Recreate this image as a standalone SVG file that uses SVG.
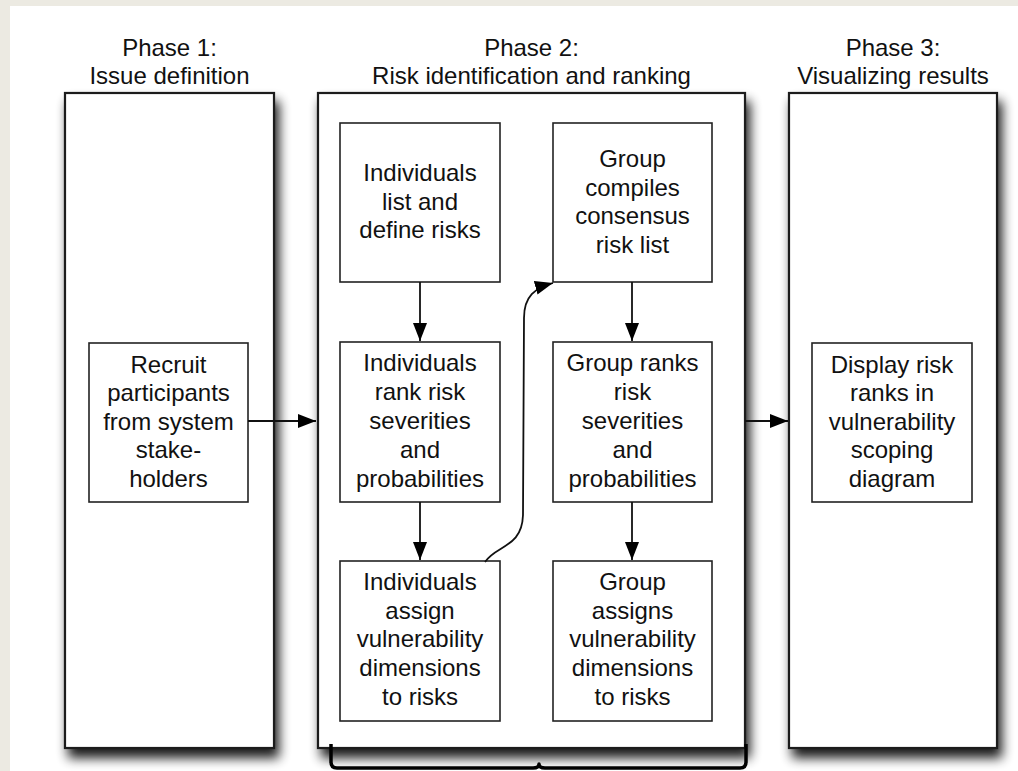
<svg xmlns="http://www.w3.org/2000/svg" width="1018" height="771" viewBox="0 0 1018 771">
  <defs>
    <style>
      text { font-family: "Liberation Sans", Arial, sans-serif; font-size: 24px; fill: #111; text-anchor: middle; }
      .phase { fill: #fff; stroke: #1a1a1a; stroke-width: 2.2; }
      .step { fill: #fff; stroke: #222; stroke-width: 1.6; }
      .link { fill: none; stroke: #111; stroke-width: 1.8; }
      .brace { fill: none; stroke: #000; stroke-width: 3.5; stroke-linejoin: round; }
    </style>
    <filter id="drop" x="-20%" y="-10%" width="140%" height="120%">
      <feGaussianBlur in="SourceAlpha" stdDeviation="6"/>
      <feOffset dx="4" dy="9"/>
      <feComponentTransfer><feFuncA type="linear" slope="0.9"/></feComponentTransfer>
      <feMerge><feMergeNode/><feMergeNode in="SourceGraphic"/></feMerge>
    </filter>
    <marker id="head" viewBox="0 0 18 14" refX="18" refY="7" markerWidth="18" markerHeight="14" markerUnits="userSpaceOnUse" orient="auto">
      <path d="M0,0 L18,7 L0,14 Z" fill="#000"/>
    </marker>
  </defs>

  <!-- page surround -->
  <rect x="0" y="0" width="1018" height="771" fill="#ECEAE2"/>
  <rect x="10" y="6" width="1008" height="765" fill="#fff"/>

  <!-- phase columns -->
  <g id="phase1">
    <rect class="phase" x="65" y="93" width="209" height="655" filter="url(#drop)"/>
    <text x="169.5" y="56">Phase 1:</text>
    <text x="169.5" y="84">Issue definition</text>
  </g>
  <g id="phase2">
    <rect class="phase" x="318" y="93" width="427" height="655" filter="url(#drop)"/>
    <text x="531.5" y="56">Phase 2:</text>
    <text x="531.5" y="84">Risk identification and ranking</text>
  </g>
  <g id="phase3">
    <rect class="phase" x="789" y="93" width="208" height="655" filter="url(#drop)"/>
    <text x="893" y="56">Phase 3:</text>
    <text x="893" y="84">Visualizing results</text>
  </g>

  <!-- steps -->
  <g id="recruit">
    <rect class="step" x="89" y="343" width="159" height="159"/>
    <text x="168.5" y="373">Recruit</text>
    <text x="168.5" y="401">participants</text>
    <text x="168.5" y="429.5">from system</text>
    <text x="168.5" y="458">stake-</text>
    <text x="168.5" y="486.5">holders</text>
  </g>
  <g id="ind-list">
    <rect class="step" x="340" y="123" width="160" height="159"/>
    <text x="420" y="181">Individuals</text>
    <text x="420" y="209.5">list and</text>
    <text x="420" y="238">define risks</text>
  </g>
  <g id="grp-list">
    <rect class="step" x="553" y="123" width="159" height="159"/>
    <text x="632.5" y="167">Group</text>
    <text x="632.5" y="195.5">compiles</text>
    <text x="632.5" y="224">consensus</text>
    <text x="632.5" y="252.5">risk list</text>
  </g>
  <g id="ind-rank">
    <rect class="step" x="340" y="342" width="160" height="160"/>
    <text x="420" y="371">Individuals</text>
    <text x="420" y="400">rank risk</text>
    <text x="420" y="429">severities</text>
    <text x="420" y="458">and</text>
    <text x="420" y="486.5">probabilities</text>
  </g>
  <g id="grp-rank">
    <rect class="step" x="553" y="342" width="159" height="160"/>
    <text x="632.5" y="371">Group ranks</text>
    <text x="632.5" y="400">risk</text>
    <text x="632.5" y="429">severities</text>
    <text x="632.5" y="458">and</text>
    <text x="632.5" y="486.5">probabilities</text>
  </g>
  <g id="ind-assign">
    <rect class="step" x="340" y="561" width="160" height="160"/>
    <text x="420" y="590">Individuals</text>
    <text x="420" y="618.5">assign</text>
    <text x="420" y="647">vulnerability</text>
    <text x="420" y="676">dimensions</text>
    <text x="420" y="704.5">to risks</text>
  </g>
  <g id="grp-assign">
    <rect class="step" x="553" y="561" width="159" height="160"/>
    <text x="632.5" y="590">Group</text>
    <text x="632.5" y="618.5">assigns</text>
    <text x="632.5" y="647">vulnerability</text>
    <text x="632.5" y="676">dimensions</text>
    <text x="632.5" y="704.5">to risks</text>
  </g>
  <g id="display">
    <rect class="step" x="812" y="343" width="160" height="159"/>
    <text x="892" y="373">Display risk</text>
    <text x="892" y="401">ranks in</text>
    <text x="892" y="429.5">vulnerability</text>
    <text x="892" y="458">scoping</text>
    <text x="892" y="486.5">diagram</text>
  </g>

  <!-- connectors -->
  <g id="connectors">
    <path class="link" d="M248,421 L316,421" marker-end="url(#head)"/>
    <path class="link" d="M745,421 L788,421" marker-end="url(#head)"/>
    <path class="link" d="M420,282 L420,341" marker-end="url(#head)"/>
    <path class="link" d="M420,502 L420,560" marker-end="url(#head)"/>
    <path class="link" d="M632,282 L632,341" marker-end="url(#head)"/>
    <path class="link" d="M632,502 L632,560" marker-end="url(#head)"/>
    <path class="link" d="M485,562 C496,545 522,548 523,515 L524,318 C524,296 535,288 553,283" marker-end="url(#head)"/>
  </g>

  <!-- bracket under phase 2 -->
  <path class="brace" d="M331,744 L331,762 Q331,768 337,768 L533,768 Q539,768 539,764 Q539,768 545,768 L740,768 Q746,768 746,762 L746,744"/>
</svg>
